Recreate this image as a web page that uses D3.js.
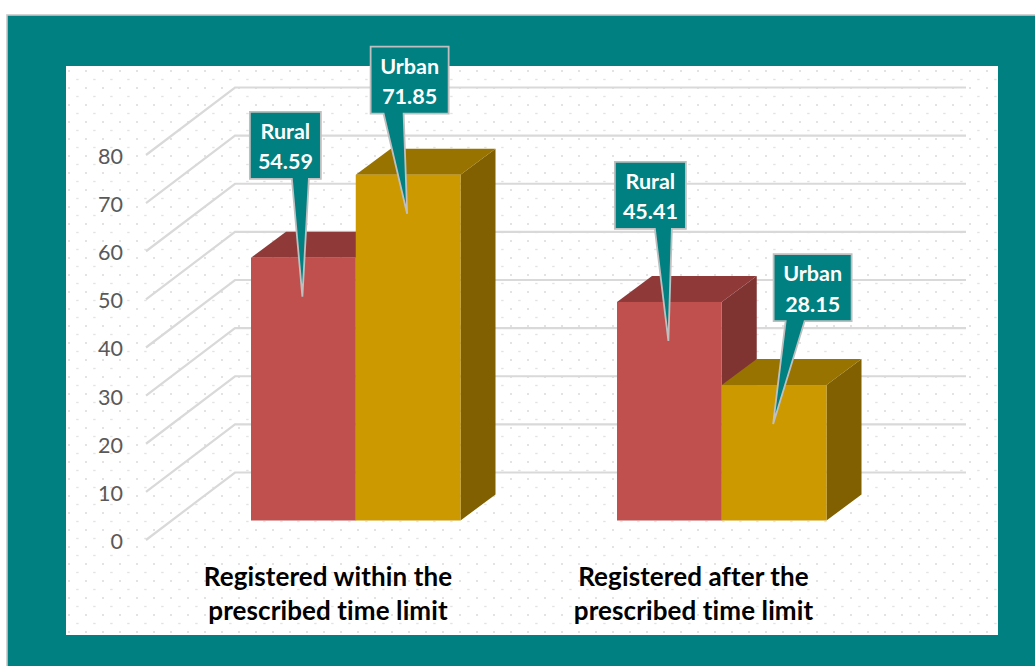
<!DOCTYPE html>
<html>
<head>
<meta charset="utf-8">
<style>
html,body{margin:0;padding:0;background:#fff;overflow:hidden}
svg{display:block}
text{font-family:Lato,"Open Sans",sans-serif;font-variant-ligatures:none}
</style>
<script src="https://cdn.jsdelivr.net/npm/d3@7/dist/d3.min.js"></script>
</head>
<body>
<div id="chart"></div>
<script>
// ---- data ----
const categories = [
  ["Registered within the", "prescribed time limit"],
  ["Registered after the", "prescribed time limit"]
];
const seriesNames = ["Rural", "Urban"];
const ruralValues = [54.59, 45.41];
const urbanValues = [71.85, 28.15];
const tickValues = [0, 10, 20, 30, 40, 50, 60, 70, 80];

// ---- layout ----
const W = 1035, H = 666;
const floorY = 520.5;
const barDepth = {dx: 35, dy: -26};
const seriesColors = {
  Rural: {front: "#c0504d", top: "#8f3a39", side: "#7f3432"},
  Urban: {front: "#cc9900", top: "#997300", side: "#806000"}
};
// callout box placement relative to the bar's top-centre, per series and category
const calloutLayout = {
  Rural: [{bx: -53.5, by: -146, bw: 71, bh: 67, p0: 42, p1: 59},
          {bx: -54.5, by: -140, bw: 71, bh: 67, p0: 40, p1: 57}],
  Urban: [{bx: -37.5, by: -128, bw: 78, bh: 67, p0: 13, p1: 33},
          {bx: -0.5, by: -131, bw: 78, bh: 67, p0: 12, p1: 31}]
};

const svg = d3.select("#chart").append("svg").attr("width", W).attr("height", H);
const defs = svg.append("defs");
const pat = defs.append("pattern").attr("id", "dots").attr("patternUnits", "userSpaceOnUse")
  .attr("x", 68).attr("y", 70).attr("width", 17).attr("height", 17);
pat.append("rect").attr("width", 2).attr("height", 2).attr("x", 0).attr("y", 0).attr("fill", "#e3e3e3");
pat.append("rect").attr("width", 2.4).attr("height", 1.4).attr("x", 8.2).attr("y", 8.8).attr("fill", "#e3e3e3");

// frame
svg.append("rect").attr("x", 7).attr("y", 15).attr("width", W).attr("height", H)
  .attr("fill", "#008080").attr("stroke", "#c8c8c8").attr("stroke-width", 1.6);
svg.append("rect").attr("x", 66).attr("y", 66).attr("width", 932).attr("height", 569).attr("fill", "#fff");
svg.append("rect").attr("x", 66).attr("y", 66).attr("width", 932).attr("height", 569).attr("fill", "url(#dots)");

// scales
const yHeight = d3.scaleLinear().domain([0, 80]).range([0, 385]);
const xOuter = d3.scaleBand().domain(d3.range(categories.length)).range([251, 983]).paddingInner(0).paddingOuter(0);
const xInner = d3.scaleBand().domain(seriesNames).range([0, 209.5]);
const yAxisScale = d3.scaleLinear().domain([0, 80]).range([540, 155]);

// gridlines
const grid = svg.append("g").attr("fill", "none").attr("stroke", "#d9d9d9").attr("stroke-width", 2.2);
const wallLine = d3.line();
grid.selectAll("path").data(tickValues).enter().append("path")
  .attr("d", v => {
    const y0 = yAxisScale(v);
    return wallLine([[146, y0], [235, y0 - 67.5], [966, y0 - 67.5]]);
  });

// axis labels
const axisG = svg.append("g").attr("transform", "translate(130,1.5)")
  .call(d3.axisLeft(yAxisScale).tickValues(tickValues).tickSize(0).tickPadding(7));
axisG.select(".domain").remove();
axisG.selectAll("text").attr("fill", "#595959").style("font-size", "21.5px")
  .style("font-family", "Lato,'Open Sans',sans-serif");

// bars: later bars paint on top, so urban covers rural's side where it overlaps
const bars = [];
categories.forEach((c, i) => {
  bars.push({cat: i, name: "Rural", value: ruralValues[i]});
  bars.push({cat: i, name: "Urban", value: urbanValues[i]});
});
bars.forEach(b => {
  b.x0 = xOuter(b.cat) + xInner(b.name);
  b.x1 = b.x0 + xInner.bandwidth();
  b.top = floorY - yHeight(b.value);
});
const poly = pts => pts.map(p => p.join(",")).join(" ");
const barG = svg.append("g");
bars.forEach(b => {
  const c = seriesColors[b.name], d = barDepth, g = barG.append("g");
  g.append("polygon").attr("fill", c.side).attr("points", poly([
    [b.x1, b.top], [b.x1 + d.dx, b.top + d.dy], [b.x1 + d.dx, floorY + d.dy], [b.x1, floorY]]));
  g.append("polygon").attr("fill", c.top).attr("points", poly([
    [b.x0, b.top], [b.x0 + d.dx, b.top + d.dy], [b.x1 + d.dx, b.top + d.dy], [b.x1, b.top]]));
  g.append("rect").attr("x", b.x0).attr("y", b.top).attr("width", b.x1 - b.x0).attr("height", floorY - b.top)
    .attr("fill", c.front);
});

// callouts
const calloutG = svg.append("g");
bars.forEach(b => {
  const L = calloutLayout[b.name][b.cat];
  const cx = (b.x0 + b.x1) / 2, bx = cx + L.bx, by = b.top + L.by;
  const tip = [cx - 1, b.top + 39];
  const path = d3.path();
  path.moveTo(bx, by);
  path.lineTo(bx + L.bw, by);
  path.lineTo(bx + L.bw, by + L.bh);
  path.lineTo(bx + L.p1, by + L.bh);
  path.lineTo(tip[0], tip[1]);
  path.lineTo(bx + L.p0, by + L.bh);
  path.lineTo(bx, by + L.bh);
  path.closePath();
  const g = calloutG.append("g");
  g.append("path").attr("d", path.toString()).attr("fill", "#008080")
    .attr("stroke", "#bfbfbf").attr("stroke-width", 1.8);
  g.selectAll("text").data([b.name, b.value.toFixed(2)]).enter().append("text")
    .attr("x", bx + L.bw / 2).attr("y", (d, i) => by + 27 + i * 30.5)
    .attr("text-anchor", "middle").attr("fill", "#fff")
    .style("font-size", "21.5px").style("font-weight", 700).text(d => d);
});

// category labels
const catCenters = [328, 693.5];
categories.forEach((lines, i) => {
  svg.append("g").selectAll("text").data(lines).enter().append("text")
    .attr("x", catCenters[i]).attr("y", (d, j) => 586 + j * 34)
    .attr("text-anchor", "middle").attr("fill", "#000")
    .style("font-size", "26px").style("letter-spacing", "0.1px").style("font-weight", 700).text(d => d);
});
</script>
</body>
</html>
